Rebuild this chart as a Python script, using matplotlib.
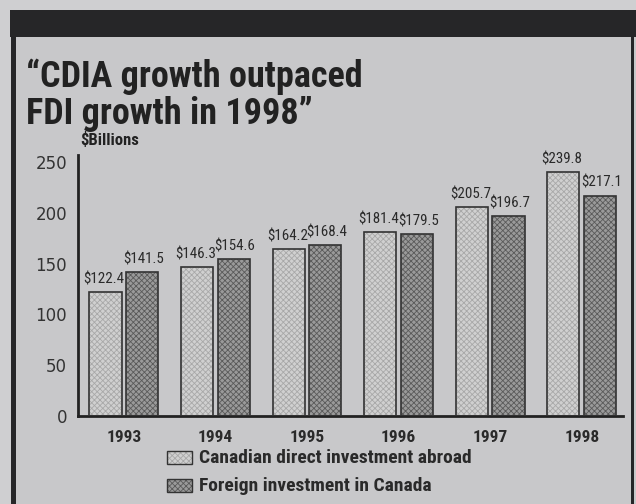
import matplotlib
matplotlib.use("Agg")
import matplotlib.pyplot as plt
from matplotlib.patches import Rectangle
from matplotlib import font_manager as fm
import numpy as np

# ---------------- data ----------------
years = ["1993", "1994", "1995", "1996", "1997", "1998"]
cdia = [122.4, 146.3, 164.2, 181.4, 205.7, 239.8]
fdi = [141.5, 154.6, 168.4, 179.5, 196.7, 217.1]
series_names = ["Canadian direct investment abroad", "Foreign investment in Canada"]
yticks = [0, 50, 100, 150, 200, 250]
title_lines = ["\u201cCDIA growth outpaced", "FDI growth in 1998\u201d"]
unit_label = "$Billions"

# ---------------- fonts ----------------
names = {f.name for f in fm.fontManager.ttflist}
narrow_family = None
for cand in ["Liberation Sans Narrow", "Arial Narrow", "Roboto Condensed", "Open Sans Condensed"]:
    if cand in names:
        narrow_family = cand
        break
dejavu_cond = any(f.name == "DejaVu Sans" and str(f.stretch).lower() in ("condensed", "semi-condensed")
                  for f in fm.fontManager.ttflist)

def nfont(size, weight="normal"):
    if narrow_family:
        return dict(family=narrow_family, fontsize=size, fontweight=weight)
    if dejavu_cond:
        return dict(family="DejaVu Sans", fontstretch="condensed", fontsize=size * 0.85, fontweight=weight)
    return dict(family="Liberation Sans", fontsize=size * 0.8, fontweight=weight)

W, H = 636, 504
fig = plt.figure(figsize=(W / 100, H / 100), dpi=100)
fig.patch.set_facecolor("#cfcfd1")

def px(x0, y0, w, h):
    return (x0 / W, 1 - (y0 + h) / H, w / W, h / H)

def rect(x0, y0, w, h, **kw):
    l, b, ww, hh = px(x0, y0, w, h)
    fig.add_artist(Rectangle((l, b), ww, hh, transform=fig.transFigure, **kw))

# panel
rect(11, 10, 625, 500, facecolor="#c8c8ca", edgecolor="none", zorder=0)
rect(10, 10, 626, 27, facecolor="#262628", edgecolor="none", zorder=1)
rect(11, 37, 5, 470, facecolor="#262628", edgecolor="none", zorder=1)
rect(631, 37, 2.5, 470, facecolor="#262628", edgecolor="none", zorder=1)

# title
fig.text(26 / W, 1 - 87 / H, title_lines[0], color="#222222", va="baseline", ha="left",
         **nfont(26, "bold"))
fig.text(26 / W, 1 - 124 / H, title_lines[1], color="#222222", va="baseline", ha="left",
         **nfont(26, "bold"))
fig.text(80 / W, 1 - 140 / H, unit_label, color="#222222", va="center", ha="left",
         **nfont(12, "bold"))

# axes
ax = fig.add_axes([78 / W, (504 - 416) / H, (623 - 78) / W, (416 - 155) / H])
ax.set_facecolor("none")
x = np.arange(len(years))
bw = 0.35
off = 0.2

plt.rcParams["hatch.linewidth"] = 0.6
light_face, light_hatch = "#d0d0d0", "#a8a8a8"
dark_face, dark_hatch = "#9a9a9a", "#5a5a5a"

ax.bar(x - off, cdia, bw, color=light_face, edgecolor=light_hatch, hatch="xxxxxx", linewidth=0, zorder=2)
ax.bar(x - off, cdia, bw, fill=False, edgecolor="#333333", linewidth=1.2, zorder=3)
ax.bar(x + off, fdi, bw, color=dark_face, edgecolor=dark_hatch, hatch="xxxxxx", linewidth=0, zorder=2)
ax.bar(x + off, fdi, bw, fill=False, edgecolor="#333333", linewidth=1.2, zorder=3)

for xi, v in zip(x - off, cdia):
    ax.annotate(f"${v:.1f}", (xi, v), xytext=(-1, 4), textcoords="offset points",
                ha="center", va="bottom", color="#2a2a2a", **nfont(10.8))
for xi, v in zip(x + off, fdi):
    ax.annotate(f"${v:.1f}", (xi, v), xytext=(1, 4), textcoords="offset points",
                ha="center", va="bottom", color="#2a2a2a", **nfont(10.8))

ax.set_xlim(-0.50, 5.45)
ax.set_ylim(0, 257)
ax.set_yticks(yticks)
ax.set_yticklabels([str(t) for t in yticks], color="#333333", family="DejaVu Sans", fontsize=12)
ax.set_xticks(x)
ax.set_xticklabels(years, color="#2a2a2a", **nfont(12.5, "bold"))
ax.tick_params(axis="both", length=0)
ax.tick_params(axis="y", pad=8)
ax.tick_params(axis="x", pad=10)
for s in ["top", "right"]:
    ax.spines[s].set_visible(False)
for s in ["left", "bottom"]:
    ax.spines[s].set_linewidth(2)
    ax.spines[s].set_color("#222222")

# legend (manual)
leg_rows = [(451, light_face, light_hatch), (479, dark_face, dark_hatch)]
for (ytop, fc, hc), name in zip(leg_rows, series_names):
    l, b, ww, hh = px(167, ytop, 25, 13)
    fig.add_artist(Rectangle((l, b), ww, hh, transform=fig.transFigure, facecolor=fc,
                             edgecolor=hc, hatch="xxxxxx", linewidth=0, zorder=2))
    fig.add_artist(Rectangle((l, b), ww, hh, transform=fig.transFigure, fill=False,
                             edgecolor="#333333", linewidth=1.0, zorder=3))
    fig.text(199 / W, 1 - (ytop + 7) / H, name, va="center", ha="left", color="#2a2a2a",
             **nfont(14, "bold"))

fig.savefig("out.png", dpi=100, facecolor=fig.get_facecolor())
